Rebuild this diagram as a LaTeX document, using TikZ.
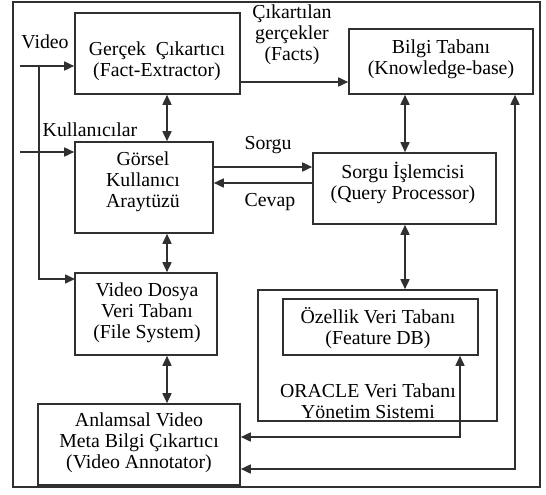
\documentclass[tikz,border=0pt]{standalone}
\usepackage{fontspec}
\setmainfont{Liberation Serif}
\usetikzlibrary{arrows.meta}
\definecolor{linec}{HTML}{303030}
\begin{document}
\begin{tikzpicture}[x=1pt,y=-1pt,
  box/.style={draw=linec, line width=1.6pt, inner sep=0pt},
  txt/.style={inner sep=0pt, align=center, font=\fontsize{19.8}{21}\selectfont},
  arr/.style={draw=linec, line width=1.6pt, -{Triangle[length=10pt,width=9pt]}},
  darr/.style={draw=linec, line width=1.6pt, {Triangle[length=10pt,width=9pt]}-{Triangle[length=10pt,width=9pt]}}]
\useasboundingbox (0,0) rectangle (546,495);
\draw[draw=linec, line width=2.2pt] (13,2) rectangle (540,487);

% boxes
\node[box, minimum width=165pt, minimum height=81pt] (fe) at (157.5,53.5) {};
\node[box, minimum width=184pt, minimum height=65pt] (kb) at (441,61.5) {};
\node[box, minimum width=138pt, minimum height=91pt] (gk) at (144,187.5) {};
\node[box, minimum width=183pt, minimum height=71pt] (sq) at (404.5,188.5) {};
\node[box, minimum width=142pt, minimum height=82pt] (vd) at (146,314) {};
\node[box, minimum width=202pt, minimum height=81pt] (an) at (139,444.5) {};
\node[box, minimum width=239pt, minimum height=131pt] (ora) at (377.5,355.5) {};
\node[box, minimum width=195pt, minimum height=56pt] (fdb) at (380.5,327) {};

% box texts
\node[txt] (tfe) at (157,61.5) {Gerçek\ \ Çıkartıcı\\(Fact-Extractor)};
\node[txt] (tkb) at (441,59) {Bilgi Tabanı\\(Knowledge-base)};
\node[txt] (tgk) at (143,182) {Görsel\\Kullanıcı\\Araytüzü};
\node[txt] (tsq) at (403,182.5) {Sorgu İşlemcisi\\(Query Processor)};
\node[txt] (tvd) at (147,313) {Video Dosya\\Veri Tabanı\\(File System)};
\node[txt] (tan) at (139,443) {Anlamsal Video\\Meta Bilgi Çıkartıcı\\(Video Annotator)};
\node[txt] (tfdb) at (378,328) {Özellik Veri Tabanı\\(Feature DB)};
\node[txt] (tora) at (368,401) {ORACLE Veri Tabanı\\Yönetim Sistemi};

% free labels
\node[txt] (lvid) at (45,42) {Video};
\node[txt] (lkul) at (90,130) {Kullanıcılar};
\node[txt] (lfacts) at (292,35) {Çıkartılan\\gerçekler\\(Facts)};
\node[txt] (lsorgu) at (268,145) {Sorgu};
\node[txt] (lcevap) at (270,202) {Cevap};

% helper coordinates
\coordinate (vin) at (20,66);
\coordinate (vsplit) at (39,66);
\coordinate (vdin) at (75,279);
\coordinate (kin) at (20,152);
\coordinate (cA) at (167,0);
\coordinate (cB) at (405,0);
\coordinate (cC) at (460,0);
\coordinate (cD) at (515,0);
\coordinate (r82) at (0,82);
\coordinate (r167) at (0,167);
\coordinate (r183) at (0,183);
\coordinate (r437) at (0,437);
\coordinate (r469) at (0,469);

% connectors
\draw[arr] (vin) -- (vin -| fe.west);
\draw[arr] (vsplit) |- (vdin);
\draw[arr] (kin) -- (kin -| gk.west);
\draw[darr] (fe.south -| cA) -- (gk.north -| cA);
\draw[arr] (fe.east |- r82) -- (kb.west |- r82);
\draw[darr] (kb.south -| cB) -- (sq.north -| cB);
\draw[arr] (gk.east |- r167) -- (sq.west |- r167);
\draw[arr] (sq.west |- r183) -- (gk.east |- r183);
\draw[darr] (gk.south -| cA) -- (vd.north -| cA);
\draw[darr] (sq.south -| cB) -- (ora.north -| cB);
\draw[darr] (vd.south -| cA) -- (an.north -| cA);
\draw[darr] (an.east |- r437) -| (fdb.south -| cC);
\draw[darr] (an.east |- r469) -| (kb.south -| cD);
\end{tikzpicture}
\end{document}
